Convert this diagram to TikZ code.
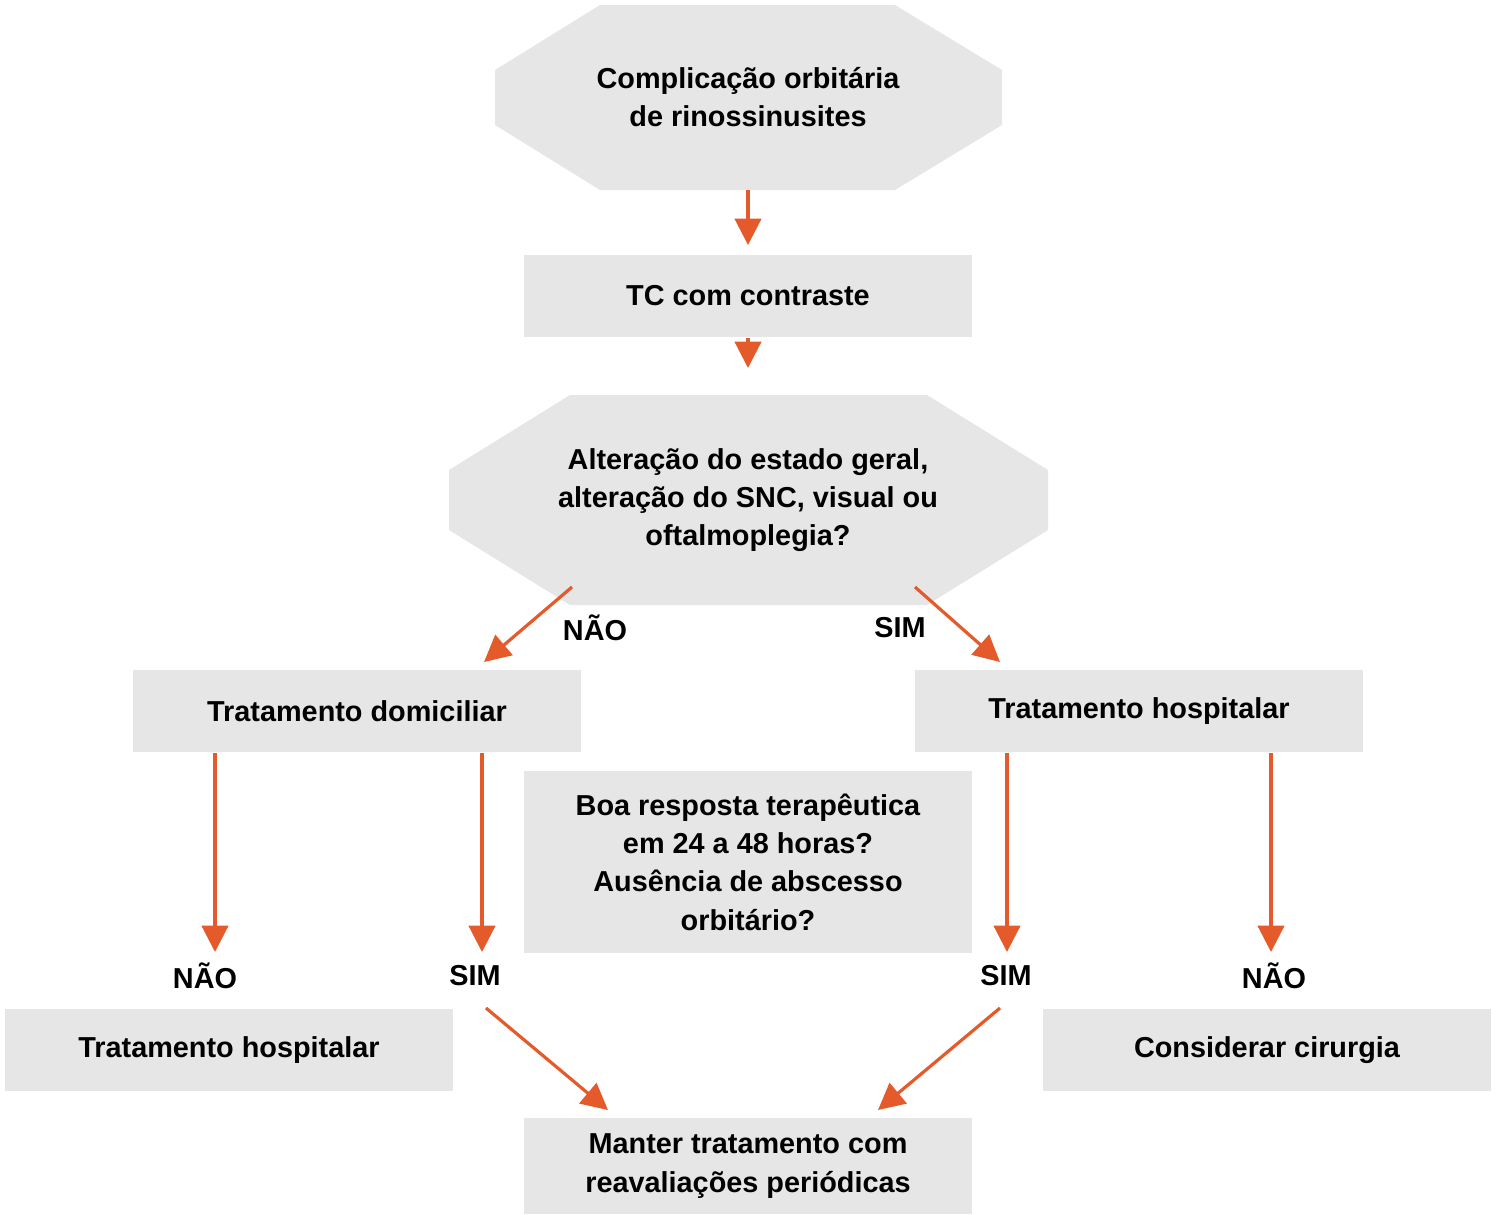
\documentclass[tikz,border=0pt]{standalone}
\usepackage{fontspec}
\setmainfont{Liberation Sans}
\usetikzlibrary{arrows.meta}
\definecolor{boxgray}{HTML}{E6E6E6}
\definecolor{arroworange}{HTML}{E45A2A}
\tikzset{
  box/.style={fill=boxgray, draw=none, minimum width=4.48cm, minimum height=0.82cm, align=center, font=\fontsize{8.2}{10.9}\selectfont\bfseries},
  txt/.style={align=center, font=\fontsize{8.2}{10.9}\selectfont\bfseries},
  flow/.style={draw=arroworange, line width=0.9pt, -{Triangle[width=7.5pt,length=7.5pt]}, arroworange},
}
\begin{document}
\begin{tikzpicture}[x=0.01cm,y=-0.01cm]
    \useasboundingbox (0,0) rectangle (1497,1214);

    % Octagons
    \fill[boxgray] (600,5) -- (895,5) -- (1002,70) -- (1002,125) -- (895,190) -- (600,190) -- (495,125) -- (495,70) -- cycle;
    \node[txt] (start) at (748,97) {Complicação orbitária\\de rinossinusites};
    \fill[boxgray] (570,395) -- (927,395) -- (1048,470) -- (1048,530) -- (927,605) -- (570,605) -- (449,530) -- (449,470) -- cycle;
    \node[txt] (ask) at (748,500) {Alteração do estado geral,\\alteração do SNC, visual ou\\oftalmoplegia?};

    % Boxes
    \node[box] (tc) at (748,296) {TC com contraste};
    \node[box] (home) at (357,711) {Tratamento domiciliar};
    \node[box] (hosp) at (1139,711) {Tratamento hospitalar};
    \node[box, minimum height=1.81cm] (resp) at (748,862) {Boa resposta terapêutica\\em 24 a 48 horas?\\Ausência de abscesso\\orbitário?};
    \node[box] (hosp2) at (229,1050) {Tratamento hospitalar};
    \node[box] (surg) at (1267,1050) {Considerar cirurgia};
    \node[box, minimum height=0.96cm] (keep) at (748,1166) {Manter tratamento com\\reavaliações periódicas};

    % Labels
    \node[txt] (n1) at (595,628) {NÃO};
    \node[txt] (s1) at (900,628) {SIM};
    \node[txt] (n2) at (205,976) {NÃO};
    \node[txt] (s2) at (475,976) {SIM};
    \node[txt] (s3) at (1006,976) {SIM};
    \node[txt] (n3) at (1274,976) {NÃO};

    % Arrow ends
    \coordinate (a1) at (748,245);
    \coordinate (b0) at (748,338);
    \coordinate (b1) at (748,368);
    \coordinate (c0) at (572,587);
    \coordinate (c1) at (484,662);
    \coordinate (d0) at (915,587);
    \coordinate (d1) at (1000,662);
    \coordinate (e1) at (215,952);
    \coordinate (f1) at (482,952);
    \coordinate (g1) at (1007,952);
    \coordinate (h1) at (1271,952);
    \coordinate (i0) at (486,1008);
    \coordinate (i1) at (608,1110);
    \coordinate (j0) at (1000,1008);
    \coordinate (j1) at (878,1110);

    % Arrows
    \draw[flow] (start.south |- 0,190) -- (a1);
    \draw[flow] (b0) -- (b1);
    \draw[flow] (c0) -- (c1);
    \draw[flow] (d0) -- (d1);
    \draw[flow] (e1 |- home.south) -- (e1);
    \draw[flow] (f1 |- home.south) -- (f1);
    \draw[flow] (g1 |- hosp.south) -- (g1);
    \draw[flow] (h1 |- hosp.south) -- (h1);
    \draw[flow] (i0) -- (i1);
    \draw[flow] (j0) -- (j1);
\end{tikzpicture}
\end{document}
